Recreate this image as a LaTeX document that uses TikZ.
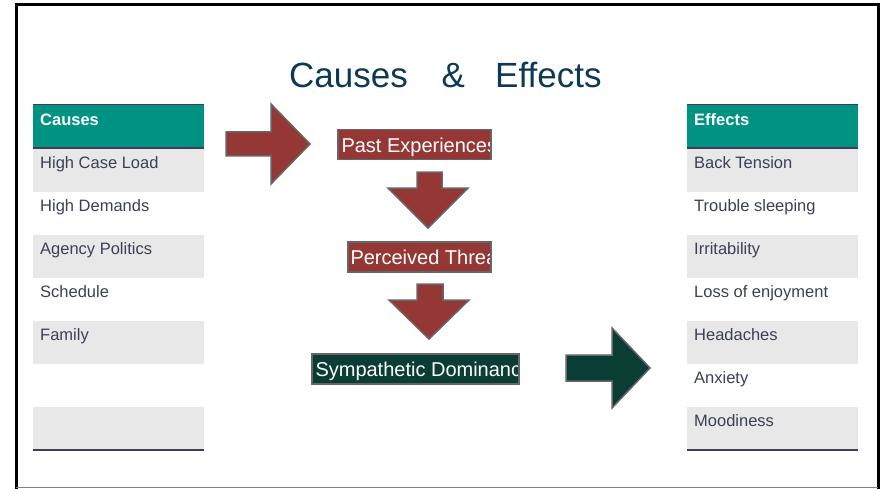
\documentclass[tikz,border=0pt]{standalone}
\usepackage{fontspec}
\setmainfont{Liberation Sans}
\usetikzlibrary{calc}
\definecolor{redA}{HTML}{953735}
\definecolor{greenA}{HTML}{0A3D34}
\definecolor{tealA}{HTML}{009383}
\definecolor{rowgray}{HTML}{E8E8E8}
\definecolor{txtc}{HTML}{3B4055}
\definecolor{titlec}{HTML}{0D3954}
\definecolor{edgec}{HTML}{666666}
\begin{document}
\begin{tikzpicture}[x=1pt,y=-1pt,
  arrowshape/.style={draw=edgec, line width=1.5pt, line join=miter},
  flowbox/.style={draw=edgec, line width=1.5pt, inner sep=0pt, anchor=north west, minimum height=30pt},
  boxtext/.style={anchor=base west, inner sep=0pt, text=white, font=\fontsize{20}{24}\selectfont},
  cell/.style={inner sep=0pt, anchor=north west, minimum width=171pt, minimum height=43pt},
  celltext/.style={anchor=base west, inner sep=0pt, text=txtc, font=\fontsize{16.5}{19}\selectfont},
  headtext/.style={anchor=base west, inner sep=0pt, text=white, font=\fontsize{16.5}{19}\selectfont\bfseries},
  titletext/.style={anchor=base west, inner sep=0pt, text=titlec, font=\fontsize{35}{40}\selectfont}
]
\useasboundingbox (0,0) rectangle (882,489);
% frame
\draw[black, line width=3pt] (16,489) -- (16,5) -- (878,5) -- (878,489);
\draw[gray, line width=1.5pt] (16,487.5) -- (878,487.5);
% title
\node[titletext] (t1) at (289,88) {Causes};
\node[titletext] (t2) at (441.5,88) {\&};
\node[titletext] (t3) at (495,88) {Effects};
% tables
\foreach \tx/\nm in {33/L,687/R}{
  \node[cell, fill=tealA, minimum height=43pt] (\nm h) at (\tx,105) {};
  \draw[txtc, line width=1pt] (\tx,105) -- ++(171,0);
  \draw[txtc, line width=2pt] (\tx,148) -- ++(171,0);
  \foreach \i in {0,2,4,6}{
    \node[cell, fill=rowgray] (\nm r\i) at (\tx,{149+43*\i}) {};
  }
  \draw[txtc, line width=2pt] (\tx,449.5) -- ++(171,0);
}
\node[headtext] (ch) at (40,126) {Causes};
\node[headtext] (eh) at (694,126) {Effects};
\foreach \t [count=\i from 0] in {High Case Load,High Demands,Agency Politics,Schedule,Family}{
  \node[celltext] (c\i) at (40,{168+43*\i}) {\t};
}
\foreach \t [count=\i from 0] in {Back Tension,Trouble sleeping,Irritability,Loss of enjoyment,Headaches,Anxiety,Moodiness}{
  \node[celltext] (e\i) at (694,{168+43*\i}) {\t};
}
% block arrows
\draw[arrowshape, fill=redA] (226,132) -- (271,132) -- (271,104) -- (310,144) -- (271,184) -- (271,156) -- (226,156) -- cycle;
\draw[arrowshape, fill=redA] (417,172) -- (442,172) -- (442,188) -- (468,188) -- (428,228) -- (388,188) -- (417,188) -- cycle;
\draw[arrowshape, fill=redA] (417,284) -- (443,284) -- (443,300) -- (469,300) -- (429,339) -- (389,300) -- (417,300) -- cycle;
\draw[arrowshape, fill=greenA] (566,355) -- (612,355) -- (612,328) -- (650,368) -- (612,408) -- (612,381) -- (566,381) -- cycle;
% flow boxes with clipped text
\node[flowbox, fill=redA, minimum width=153pt,
  path picture={\node[boxtext] at ($(path picture bounding box.south west)+(3,-7)$) {Past Experiences};}]
  (past) at (337,129) {};
\node[flowbox, fill=redA, minimum width=143pt,
  path picture={\node[boxtext] at ($(path picture bounding box.south west)+(2,-7)$) {Perceived Threat};}]
  (threat) at (347,241) {};
\node[flowbox, fill=greenA, minimum width=207pt,
  path picture={\node[boxtext] at ($(path picture bounding box.south west)+(3,-7)$) {Sympathetic Dominance};}]
  (symp) at (311,353) {};
\end{tikzpicture}
\end{document}
